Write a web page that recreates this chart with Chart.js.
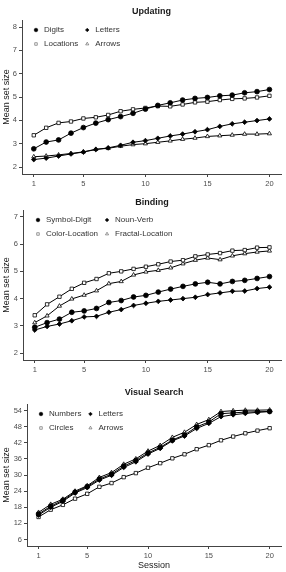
<!DOCTYPE html>
<html>
<head>
<meta charset="utf-8">
<script src="https://cdn.jsdelivr.net/npm/chart.js@4.4.1/dist/chart.umd.min.js"></script>
<style>
  body { margin: 0; background: #fff; width: 286px; height: 572px; position: relative; overflow: hidden; }
  canvas { position: absolute; left: 0; }
</style>
</head>
<body>
<canvas id="c1" width="286" height="190" style="top:0px"></canvas>
<canvas id="c2" width="286" height="187" style="top:190px"></canvas>
<canvas id="c3" width="286" height="195" style="top:377px"></canvas>
<script>
// ---------- dati ----------
const sessions = [1,2,3,4,5,6,7,8,9,10,11,12,13,14,15,16,17,18,19,20]
const xTicks = [1,5,10,15,20]

// Updating
const updNames = ['Digits','Letters','Locations','Arrows']
const updDigits    = [2.78,3.07,3.16,3.45,3.69,3.88,4.03,4.16,4.30,4.48,4.64,4.75,4.87,4.94,4.98,5.05,5.08,5.18,5.23,5.32]
const updLetters   = [2.32,2.38,2.47,2.56,2.64,2.75,2.82,2.93,3.06,3.13,3.23,3.33,3.41,3.51,3.60,3.74,3.85,3.92,3.99,4.06]
const updLocations = [3.36,3.68,3.89,3.95,4.08,4.13,4.23,4.39,4.47,4.53,4.61,4.60,4.68,4.77,4.80,4.87,4.92,4.94,4.98,5.05]
const updArrows    = [2.44,2.47,2.52,2.58,2.65,2.76,2.80,2.89,2.96,3.00,3.06,3.12,3.19,3.24,3.31,3.34,3.37,3.41,3.41,3.43]
const updTicks = [2,3,4,5,6,7,8]

// Binding
const bndNames = ['Symbol-Digit','Noun-Verb','Color-Location','Fractal-Location']
const bndSymbolDigit   = [2.95,3.12,3.25,3.50,3.55,3.64,3.86,3.93,4.06,4.12,4.24,4.35,4.45,4.54,4.60,4.54,4.63,4.67,4.74,4.81]
const bndNounVerb      = [2.85,2.98,3.07,3.19,3.33,3.35,3.50,3.60,3.75,3.83,3.90,3.95,4.00,4.05,4.15,4.21,4.27,4.28,4.37,4.42]
const bndColorLocation = [3.39,3.79,4.07,4.36,4.58,4.72,4.93,5.00,5.09,5.17,5.26,5.36,5.41,5.55,5.62,5.67,5.76,5.78,5.87,5.88]
const bndFractalLoc    = [3.12,3.37,3.73,3.99,4.13,4.29,4.55,4.63,4.87,4.98,5.04,5.13,5.28,5.41,5.49,5.43,5.57,5.65,5.71,5.75]
const bndTicks = [2,3,4,5,6,7]

// Visual Search
const vsNames = ['Numbers','Letters','Circles','Arrows']
const vsNumbers = [15.5,18.4,20.6,23.6,25.7,28.5,30.3,33.3,35.4,38.2,40.3,43.0,44.9,47.9,49.7,52.8,53.1,53.4,53.5,53.6]
const vsLetters = [15.1,18.0,20.2,23.3,25.3,28.1,29.9,32.8,34.9,37.8,39.9,42.7,44.5,47.3,49.2,51.7,52.4,52.9,53.3,53.6]
const vsCircles = [14.4,17.1,18.9,21.2,23.0,25.6,27.0,29.2,30.7,32.7,34.4,36.2,37.7,39.6,41.1,42.9,44.3,45.5,46.5,47.4]
const vsArrows  = [16.1,19.1,21.0,24.0,26.0,29.1,30.9,34.0,36.0,38.9,41.0,44.0,45.9,48.8,50.6,53.6,53.9,54.1,54.1,54.2]
const vsTicks = [6,12,18,24,30,36,42,48,54]

// ---------- stile ----------
const FONT = '"Liberation Sans", Arial, sans-serif'
const markers = ['circle','rectRot','rect','triangle']
const fills   = ['#000','#000','#fff','#fff']

// titolo centrato sul pannello (come ggplot)
const panelTitle = {
  id: 'panelTitle',
  afterDraw(chart, args, o) {
    const { ctx, chartArea: a } = chart
    ctx.save()
    ctx.font = 'bold 9px ' + FONT
    ctx.fillStyle = '#1a1a1a'
    ctx.textAlign = 'center'
    ctx.textBaseline = 'middle'
    ctx.fillText(o.text, (a.left + a.right) / 2, o.y)
    ctx.restore()
  }
}

// legenda 2x2 dentro l'area del grafico
const cornerLegend = {
  id: 'cornerLegend',
  afterDraw(chart, args, o) {
    const { ctx, chartArea: a } = chart
    const ds = chart.data.datasets
    ctx.save()
    ctx.font = '8px ' + FONT
    const w0 = Math.max(ctx.measureText(ds[0].label).width, ctx.measureText(ds[2].label).width)
    const cols = [a.left + o.dx, a.left + o.dx + 8 + w0 + 9]
    ds.forEach((d, i) => {
      const x = cols[i % 2]
      const y = a.top + o.dy + Math.floor(i / 2) * 14
      ctx.fillStyle = d.pointBackgroundColor
      ctx.strokeStyle = i < 2 ? '#000' : '#555'
      ctx.lineWidth = 0.6
      Chart.helpers.drawPoint(ctx, { pointStyle: d.pointStyle, radius: 1.8, rotation: 0, borderWidth: 0.6 }, x, y)
      ctx.fillStyle = '#333'
      ctx.textAlign = 'left'
      ctx.textBaseline = 'middle'
      ctx.fillText(d.label, x + 8, y)
    })
    ctx.restore()
  }
}

function makePanel(id, p) {
  const datasets = p.series.map((s, i) => ({
    label: p.names[i],
    data: s.map((v, k) => ({ x: sessions[k], y: v })),
    borderColor: '#000',
    borderWidth: 1,
    pointStyle: markers[i],
    pointRadius: 2.4,
    pointBorderWidth: 0.8,
    pointBackgroundColor: fills[i],
    pointBorderColor: '#000',
    tension: 0
  }))
  return new Chart(document.getElementById(id), {
    type: 'line',
    data: { datasets },
    plugins: [panelTitle, cornerLegend],
    options: {
      responsive: false,
      animation: false,
      devicePixelRatio: 1,
      layout: { padding: { top: p.top, right: 3, left: 0, bottom: 0 } },
      plugins: {
        legend: { display: false },
        tooltip: { enabled: false },
        panelTitle: { text: p.title, y: p.titleY },
        cornerLegend: { dx: p.legDx, dy: 10 }
      },
      scales: {
        x: {
          type: 'linear',
          min: 0.05, max: 20.95,
          afterBuildTicks: sc => { sc.ticks = xTicks.map(v => ({ value: v })) },
          afterFit: sc => { sc.height = p.xHeight },
          grid: { drawOnChartArea: false, drawTicks: true, tickLength: 3, color: '#444' },
          border: { display: true, color: '#444', width: 1 },
          ticks: { font: { family: FONT, size: 7.5 }, color: '#4d4d4d', padding: 2, maxRotation: 0 },
          title: { display: !!p.xTitle, text: p.xTitle || '', font: { family: FONT, size: 9 }, color: '#1a1a1a', padding: { top: 0, bottom: 1 } }
        },
        y: {
          min: p.yMin, max: p.yMax,
          afterBuildTicks: sc => { sc.ticks = p.yTicks.map(v => ({ value: v })) },
          afterFit: sc => { sc.width = p.yWidth },
          grid: { drawOnChartArea: false, drawTicks: true, tickLength: 3, color: '#444' },
          border: { display: true, color: '#444', width: 1 },
          ticks: { font: { family: FONT, size: 7.5 }, color: '#4d4d4d', padding: 2 },
          title: { display: true, text: 'Mean set size', font: { family: FONT, size: 9 }, color: '#1a1a1a', padding: { top: 1.5, bottom: 0 } }
        }
      }
    }
  })
}

makePanel('c1', {
  title: 'Updating', titleY: 12, top: 20, xHeight: 16, yWidth: 22, legDx: 14,
  names: updNames, series: [updDigits, updLetters, updLocations, updArrows],
  yMin: 1.7, yMax: 8.3, yTicks: updTicks
})
makePanel('c2', {
  title: 'Binding', titleY: 13, top: 20, xHeight: 17, yWidth: 23, legDx: 15,
  names: bndNames, series: [bndSymbolDigit, bndNounVerb, bndColorLocation, bndFractalLoc],
  yMin: 1.75, yMax: 7.25, yTicks: bndTicks
})
makePanel('c3', {
  title: 'Visual Search', titleY: 16, top: 27, xHeight: 26, yWidth: 27, legDx: 14,
  names: vsNames, series: [vsNumbers, vsLetters, vsCircles, vsArrows],
  yMin: 3.6, yMax: 56.4, yTicks: vsTicks, xTitle: 'Session'
})
</script>
</body>
</html>
